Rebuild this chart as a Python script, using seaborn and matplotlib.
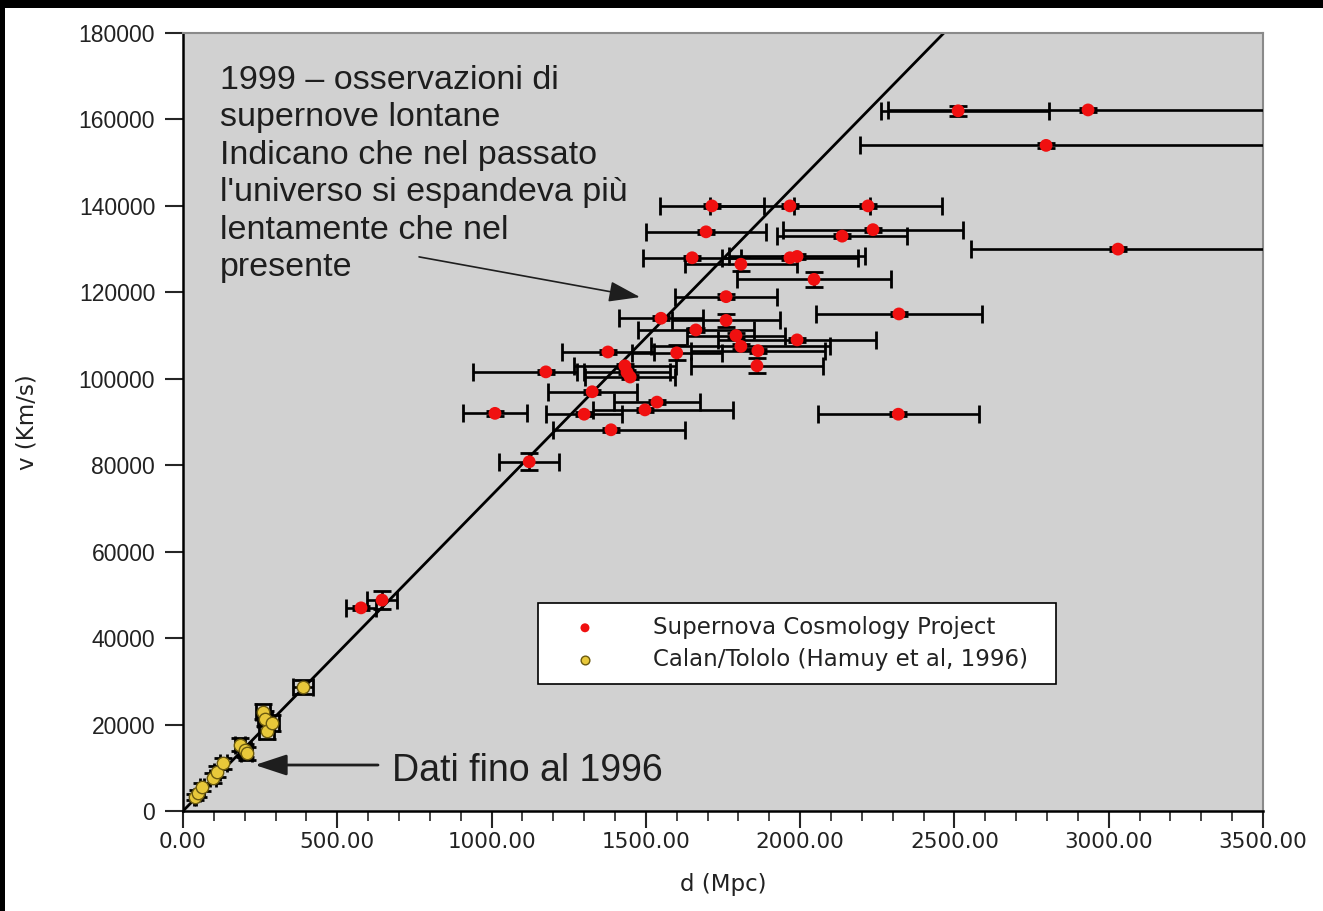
import matplotlib
matplotlib.use("Agg")
import matplotlib.pyplot as plt
import seaborn as sns
import pandas as pd
import numpy as np
from matplotlib.ticker import MultipleLocator
from matplotlib.patches import Rectangle

# Supernova Cosmology Project: distance (Mpc), velocity (km/s), distance error (low/high), velocity error
scp_d = [2512, 2933, 2797, 3030, 1714, 1967, 2220, 1695, 2236, 2136, 1650, 1967, 1990,
         1808, 2045, 1760, 2320, 1549, 1760, 1662, 1792, 1990, 1377, 1600, 1808, 1863,
         1860, 1176, 1432, 1439, 1449, 1326, 1536, 1497, 1300, 1011, 1387, 1122, 577,
         645, 2318]
scp_v = [162000, 162200, 154000, 130000, 140000, 140000, 140000, 134000, 134500, 133000,
         128000, 128000, 128300, 126500, 123000, 119000, 115000, 114000, 113500, 111300,
         110000, 109000, 106200, 106000, 107500, 106500, 103000, 101600, 103000, 101500,
         100400, 97000, 94600, 92800, 91800, 92000, 88200, 80800, 47000, 48800, 91800]
scp_d_lo = [250, 648, 603, 476, 168, 259, 240, 194, 292, 211, 159, 220, 220, 181, 250,
            165, 270, 135, 175, 188, 160, 256, 148, 146, 290, 218, 214, 237, 165, 140,
            145, 144, 140, 168, 122, 104, 188, 98, 48, 50, 261]
scp_d_hi = [295, 648, 760, 476, 168, 259, 240, 194, 292, 211, 159, 220, 220, 181, 250,
            165, 270, 135, 175, 188, 160, 256, 148, 146, 290, 218, 214, 100, 165, 140,
            145, 144, 140, 285, 122, 104, 240, 98, 48, 50, 261]
scp_v_err = [1150, 500, 500, 500, 500, 500, 500, 500, 500, 500, 500, 500, 500, 1600,
             1800, 500, 500, 500, 1500, 500, 500, 500, 500, 1700, 500, 500, 1750, 500,
             500, 500, 500, 500, 500, 500, 500, 500, 500, 2000, 500, 2100, 500]

# Calan/Tololo survey (Hamuy et al. 1996)
ct_d = [39, 50, 61, 98, 109, 131, 185, 201, 206, 260, 266, 271, 287, 390]
ct_v = [3300, 4100, 5600, 7600, 9100, 11000, 15300, 14100, 13400, 23000, 21400, 18400,
        20400, 28700]
ct_d_err = [4, 5, 6, 9, 10, 12, 16, 18, 18, 22, 23, 24, 25, 32]
ct_v_err = [700, 800, 900, 1100, 1200, 1300, 1500, 1500, 1500, 1800, 1800, 1800, 1800,
            1600]

hubble_const = 73  # km/s/Mpc
x_ticks = [0, 500, 1000, 1500, 2000, 2500, 3000, 3500]
y_ticks = [0, 20000, 40000, 60000, 80000, 100000, 120000, 140000, 160000, 180000]

label_scp = "Supernova Cosmology Project"
label_ct = "Calan/Tololo (Hamuy et al, 1996)"
note_1999 = ("1999 – osservazioni di\nsupernove lontane\nIndicano che nel passato\n"
             "l'universo si espandeva più\nlentamente che nel\npresente")
note_1996 = "Dati fino al 1996"

sns.set_style("ticks")
plt.rcParams["font.family"] = ["DejaVu Sans"]

scp = pd.DataFrame({"d": scp_d, "v": scp_v})
ct = pd.DataFrame({"d": ct_d, "v": ct_v})

fig = plt.figure(figsize=(13.23, 9.11), dpi=100)
fig.patch.set_facecolor("white")
# dark frame along the top and left edges
fig.patches.append(Rectangle((0, 1 - 8 / 911), 1, 8 / 911, transform=fig.transFigure,
                             facecolor="black", edgecolor="none", zorder=10))
fig.patches.append(Rectangle((0, 0), 5 / 1323, 1, transform=fig.transFigure,
                             facecolor="black", edgecolor="none", zorder=10))

ax = fig.add_axes([183 / 1323, 1 - 811 / 911, 1080 / 1323, 778 / 911])
ax.set_facecolor("#d1d1d1")

ax.axline((0, 0), slope=hubble_const, color="black", lw=2, zorder=2)

ebar_kw = dict(fmt="none", ecolor="black", elinewidth=1.9, capsize=6.5, capthick=2.0)
ax.errorbar(scp_d, scp_v, xerr=[scp_d_lo, scp_d_hi], yerr=scp_v_err, zorder=3, **ebar_kw)
ax.errorbar(ct_d, ct_v, xerr=ct_d_err, yerr=ct_v_err, zorder=3, **ebar_kw)

sns.scatterplot(data=scp, x="d", y="v", ax=ax, color="#f01010", edgecolor="none",
                s=85, zorder=4, label=label_scp)
sns.scatterplot(data=ct, x="d", y="v", ax=ax, color="#e8c83a", edgecolor="#6b5a10",
                linewidth=1, s=80, zorder=4, label=label_ct)

ax.set_xlim(0, 3500)
ax.set_ylim(0, 180000)
ax.set_xticks(x_ticks)
ax.set_xticklabels([f"{t:.2f}" for t in x_ticks], fontsize=15.5, color="#222222")
ax.set_yticks(y_ticks)
ax.set_yticklabels([str(t) for t in y_ticks], fontfamily="Liberation Sans",
                   fontsize=16.5, color="#222222")
ax.xaxis.set_minor_locator(MultipleLocator(100))
ax.tick_params(axis="x", which="major", direction="out", length=12, width=1.5, pad=3)
ax.tick_params(axis="x", which="minor", direction="out", length=7, width=1.2)
ax.tick_params(axis="y", which="major", direction="out", length=13, width=1.5, pad=7)

for side in ("left", "bottom"):
    ax.spines[side].set_color("black")
    ax.spines[side].set_linewidth(1.8)
for side in ("top", "right"):
    ax.spines[side].set_color("#8a8a8a")
    ax.spines[side].set_linewidth(1.5)

ax.set_xlabel("d (Mpc)", fontsize=16.5, color="#222222")
ax.set_ylabel("v (Km/s)", fontsize=16.5, color="#222222")
ax.xaxis.set_label_coords(0.5, -0.080)
ax.yaxis.set_label_coords(-0.134, 0.5)

leg = ax.legend(loc="lower left", bbox_to_anchor=(0.3287, 0.1632, 0.4796, 0.108),
                mode="expand", borderaxespad=0, frameon=True, fancybox=False,
                framealpha=1, edgecolor="black", fontsize=16.5, markerscale=0.7,
                borderpad=0.55, handlelength=3.0, handletextpad=1.45, labelspacing=0.42)
leg.get_frame().set_linewidth(1.2)
for txt in leg.get_texts():
    txt.set_color("#222222")

ax.text(120, 172600, note_1999, fontfamily="Liberation Sans", fontsize=24.5,
        color="#1e1e1e", va="top", ha="left", linespacing=1.27, zorder=5)
ax.annotate("", xy=(1481, 118900), xytext=(765, 128200),
            arrowprops=dict(arrowstyle="-|>,head_length=0.97,head_width=0.32",
                            mutation_scale=20, color="#1e1e1e", lw=1.2,
                            shrinkA=0, shrinkB=0), zorder=5)

ax.text(677, 6900, note_1996, fontfamily="Liberation Sans", fontsize=27,
        color="#1e1e1e", va="baseline", ha="left", zorder=5)
ax.annotate("", xy=(233, 10640), xytext=(632, 10640),
            arrowprops=dict(arrowstyle="-|>,head_length=0.97,head_width=0.32",
                            mutation_scale=20, color="#1e1e1e", lw=2,
                            shrinkA=0, shrinkB=0), zorder=5)

fig.savefig("out.png", dpi=100, facecolor=fig.get_facecolor())
